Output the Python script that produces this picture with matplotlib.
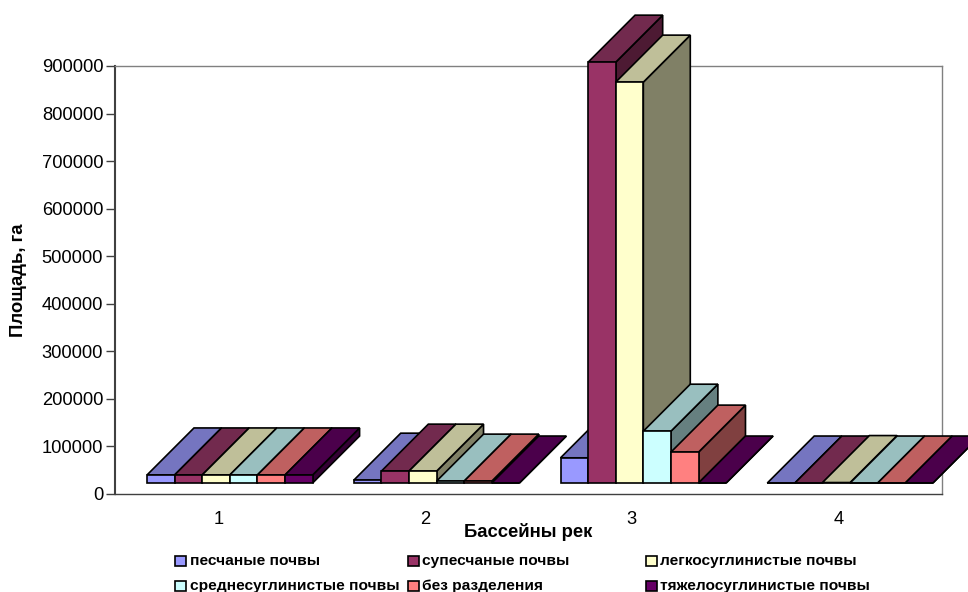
import matplotlib

matplotlib.use("Agg")

import matplotlib.pyplot as plt
from matplotlib.patches import Polygon, Rectangle

plt.rcParams["font.family"] = ["Liberation Sans", "DejaVu Sans"]

basins = ["1", "2", "3", "4"]
soils = [
    "песчаные почвы",
    "супесчаные почвы",
    "легкосуглинистые почвы",
    "среднесуглинистые почвы",
    "без разделения",
    "тяжелосуглинистые почвы",
]
sandy = [17000, 6000, 53000, 0]
sandy_loam = [17000, 25000, 885000, 0]
light_loam = [17000, 25000, 843000, 1000]
medium_loam = [17000, 4000, 109000, 0]
undivided = [17000, 4000, 65000, 0]
heavy_loam = [17000, 0, 0, 0]
series = [sandy, sandy_loam, light_loam, medium_loam, undivided, heavy_loam]

front_colors = ["#9999FF", "#993366", "#FFFFCC", "#CCFFFF", "#FF8080", "#660066"]
top_colors = ["#7575C0", "#722A4E", "#BFBF99", "#99BFBF", "#BF6060", "#4B004B"]
side_colors = ["#4D4D80", "#4D1A33", "#808066", "#668080", "#804040", "#330033"]

W, H = 968, 592
fig = plt.figure(figsize=(W / 100, H / 100), dpi=100)
ax = fig.add_axes([115 / W, 1 - 494 / H, 827 / W, 428 / H])
ax.set_xlim(0.5, 4.5)
ax.set_ylim(0, 900000)

# pseudo-3D projection, in data units
group_start = 0.155
bar_width = 0.1335
depth_x = 0.227
depth_y = 98800
floor = 23100


def draw_bar(x, value, front, top, side):
    y = floor + value
    kw = dict(edgecolor="black", linewidth=1.2, clip_on=False, zorder=3, joinstyle="miter")
    ax.add_patch(Polygon(
        [(x + bar_width, floor), (x + bar_width + depth_x, floor + depth_y),
         (x + bar_width + depth_x, y + depth_y), (x + bar_width, y)],
        facecolor=side, **kw))
    ax.add_patch(Polygon(
        [(x, y), (x + depth_x, y + depth_y),
         (x + bar_width + depth_x, y + depth_y), (x + bar_width, y)],
        facecolor=top, **kw))
    ax.add_patch(Rectangle((x, floor), bar_width, value, facecolor=front, **kw))


for g in range(len(basins)):
    left = g + 0.5 + group_start
    for s, values in enumerate(series):
        draw_bar(left + s * bar_width, values[g], front_colors[s], top_colors[s], side_colors[s])

ax.set_xticks(range(1, 5), basins)
ax.set_yticks(range(0, 900001, 100000))
ax.tick_params(axis="y", length=6.5, width=1, color="#404040", labelsize=13.2, pad=2)
ax.tick_params(axis="x", length=0, labelsize=13.2, pad=12)
for name, spine in ax.spines.items():
    spine.set_color("#808080" if name in ("top", "right") else "#404040")
    spine.set_linewidth(1.5 if name == "left" else 1)

fig.text(19 / W, 1 - 280 / H, "Площадь, га", rotation=90, ha="center", va="center",
         fontsize=13.3, fontweight="bold")
fig.text(528 / W, 1 - 532 / H, "Бассейны рек", ha="center", va="center",
         fontsize=13.3, fontweight="bold")

# legend columns have uneven widths in the source chart
legend_x = [175, 408, 646]
legend_y = [561, 586]
for i, label in enumerate(soils):
    px = legend_x[i % 3]
    py = legend_y[i // 3]
    fig.add_artist(Rectangle((px / W, 1 - (py + 5) / H), 11 / W, 10 / H, transform=fig.transFigure,
                             facecolor=front_colors[i], edgecolor="black", linewidth=1.2))
    fig.text((px + 14.5) / W, 1 - py / H, label, ha="left", va="center",
             fontsize=11.15, fontweight="bold")

fig.savefig("out.png", dpi=100)
plt.close(fig)
